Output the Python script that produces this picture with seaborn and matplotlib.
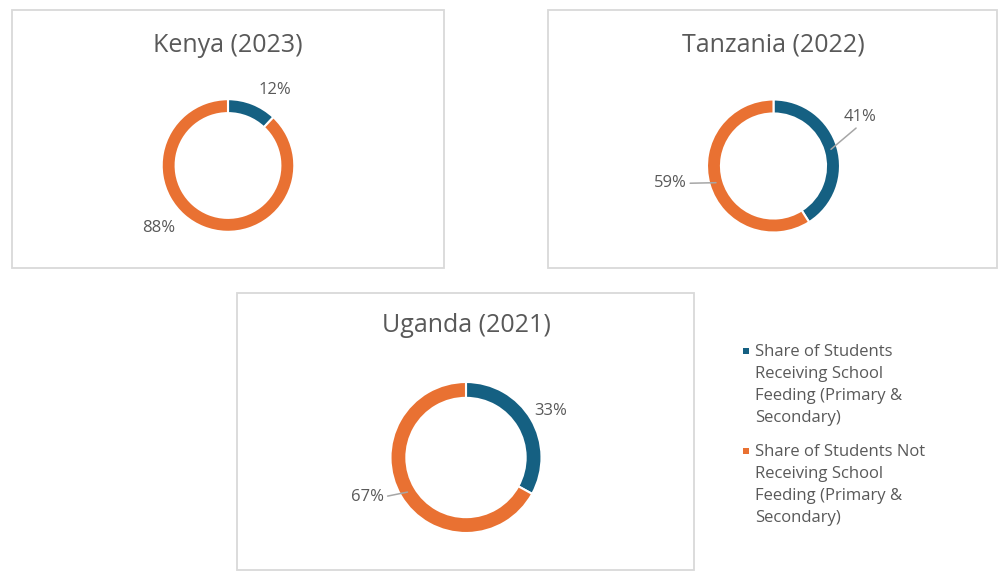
import numpy as np
import matplotlib.pyplot as plt
from matplotlib.patches import Rectangle
import seaborn as sns

# data
countries = ["Kenya (2023)", "Tanzania (2022)", "Uganda (2021)"]
receiving = [12, 41, 33]
not_receiving = [88, 59, 67]
series_names = ["Share of Students\nReceiving School\nFeeding (Primary &\nSecondary)",
                "Share of Students Not\nReceiving School\nFeeding (Primary &\nSecondary)"]
colors = ["#156082", "#E97132"]

# layout (pixels of a 1008x580 canvas)
W, H = 1008, 580
boxes = [(12, 10, 444, 268), (548, 10, 997, 268), (237, 293, 694, 570)]
centers = [(228, 165.5), (773.5, 166), (466, 457.5)]
radii = [66.3, 66.5, 75.5]
title_y = [45, 45, 326]
# label positions in units of the donut radius, and leader line start side
label_pos = [[(0.71, 1.14), (-1.05, -0.95)],
             [(1.30, 0.74), (-1.55, -0.26)],
             [(1.12, 0.61), (-1.30, -0.52)]]
leader = [[None, None],
          [(0.5, 0.0), (1.0, 0.5)],
          [None, (1.0, 0.5)]]

sns.set_theme(style="white")
plt.rcParams['font.family'] = ['Open Sans', 'DejaVu Sans']
txt = "#595959"

fig = plt.figure(figsize=(W / 100, H / 100), dpi=100)
fig.patch.set_facecolor("white")


def fx(x):
    return x / W


def fy(y):
    return 1 - y / H


# chart boxes
for (x0, y0, x1, y1) in boxes:
    fig.patches.append(Rectangle((fx(x0), fy(y1)), fx(x1) - fx(x0), fy(y0) - fy(y1),
                                 transform=fig.transFigure, fill=False,
                                 edgecolor="#D9D9D9", linewidth=1.3))

for i, name in enumerate(countries):
    cx, cy = centers[i]
    R = radii[i]
    ax = fig.add_axes([fx(cx - 2 * R), fy(cy + 2 * R), 4 * R / W, 4 * R / H])
    vals = [receiving[i], not_receiving[i]]
    ax.pie(vals, colors=colors, startangle=90, counterclock=False, radius=1,
           wedgeprops=dict(width=0.21, edgecolor="white", linewidth=1.5))
    ax.set_xlim(-2, 2)
    ax.set_ylim(-2, 2)
    ax.axis("off")

    total = sum(vals)
    cum = 0
    for j, v in enumerate(vals):
        theta = np.deg2rad(90 - 360 * (cum + v / 2) / total)
        cum += v
        tx, ty = label_pos[i][j]
        if leader[i][j] is None:
            ax.text(tx, ty, f"{v}%", ha="center", va="center", fontsize=12, color=txt)
        else:
            ax.annotate(f"{v}%", xy=(0.9 * np.cos(theta), 0.9 * np.sin(theta)),
                        xytext=(tx, ty), ha="center", va="center", fontsize=12, color=txt,
                        arrowprops=dict(arrowstyle="-", color="#A6A6A6", lw=1.1,
                                        relpos=leader[i][j], shrinkA=0, shrinkB=0))

    fig.text(fx(cx), fy(title_y[i]), name, ha="center", va="center",
             fontsize=18, color=txt)

# legend
leg_y = [351, 451]
for k, lab in enumerate(series_names):
    fig.patches.append(Rectangle((fx(743), fy(leg_y[k] + 3)), 6 / W, 6 / H,
                                 transform=fig.transFigure, facecolor=colors[k],
                                 edgecolor="none"))
    fig.text(fx(755), fy(leg_y[k] - 7), lab, ha="left", va="top",
             fontsize=12, color=txt, linespacing=1.5)

fig.savefig("out.png", dpi=100, facecolor="white")
